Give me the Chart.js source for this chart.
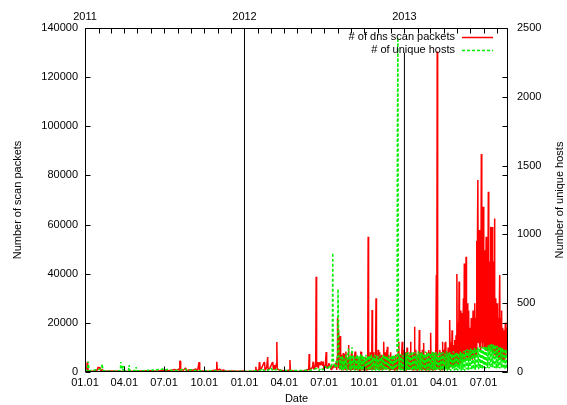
<!DOCTYPE html>
<html><head><meta charset="utf-8">
<script src="https://cdn.jsdelivr.net/npm/chart.js@4/dist/chart.umd.min.js"></script>
<style>html,body{margin:0;padding:0;background:#fff}#wrap{width:567px;height:405px}</style>
</head><body><div id="wrap"><canvas id="c" width="567" height="405"></canvas></div>
<script>
// x values are day offsets from 2011-01-01
const dateTickDays = [0,90,181,273,365,456,547,639,731,821,912];
const dateTickLabels = ["01.01","04.01","07.01","10.01","01.01","04.01","07.01","10.01","01.01","04.01","07.01"];
const monthTickDays = [0,31,59,90,120,151,181,212,243,273,304,334,365,396,425,456,486,517,547,578,609,639,670,700,731,762,790,821,851,882,912,943];
const yearTickDays = [0,365,731];
const yearTickLabels = ["2011","2012","2013"];
const yearLineDays = [365,731];
const yearLineTops = [140000,130000];
const scanTicks = [0,20000,40000,60000,80000,100000,120000,140000];
const hostTicks = [0,500,1000,1500,2000,2500];

// # of dns scan packets (left axis)
const scan2011 = [[0,300],[4,500],[5,4000],[6,3900],[7,600],[12,300],[20,400],[28,800],[30,2000],[32,1500],[34,2000],[36,500],[40,1000],[42,300],[60,400],[75,300],[90,200],[110,300],[130,400],[150,500],[165,300],[180,700],[195,500],[205,1000],[210,600],[214,1200],[216,700],[217,4500],[218,4400],[219,900],[225,700],[230,1600],[231,1500],[232,500],[240,900],[245,600],[254,1200],[255,500],[258,900],[261,4000],[262,3900],[263,600],[270,400],[280,300],[290,500],[300,800],[301,4200],[302,4100],[303,700],[308,1200],[309,1100],[310,500],[318,800],[319,700],[320,300],[335,400],[350,300],[364,400]];
const scan2012 = [[365,300],[380,200],[390,500],[391,2100],[392,400],[398,1000],[399,4000],[400,3600],[401,800],[404,1500],[410,4000],[411,3800],[412,700],[416,2000],[418,6100],[419,800],[423,1500],[429,4000],[430,3700],[431,900],[434,2800],[435,1000],[438,3400],[439,12200],[440,1200],[445,800],[452,600],[460,400],[468,800],[469,4900],[470,600],[480,300],[490,200],[500,400],[512,1000],[513,7300],[514,1000],[518,1500],[521,2000],[522,4200],[523,1200],[526,1500],[528,4000],[529,38800],[530,2000],[532,4000],[534,1500],[536,4000],[538,3000],[540,4200],[542,4000],[544,2500],[545,4200],[547,1000],[550,3000],[552,8100],[553,1500],[556,2000],[558,3500],[561,2500],[563,1000],[565,2500],[567,1500],[570,3000],[572,1800],[575,4000],[576,800],[577,6000],[578,22000],[579,17000],[580,14600],[581,1500],[582,8000],[583,900],[584,14600],[585,1200],[586,7000],[587,600],[588,6200],[589,1000],[591,7700],[592,700],[594,7300],[595,1200],[597,8300],[598,600],[600,6000],[601,1000],[602,5000],[603,11000],[604,900],[606,6000],[607,700],[608,4000],[610,8100],[611,8000],[612,800],[614,5000],[615,1000],[616,3500],[618,8300],[619,700],[620,8100],[621,900],[623,6000],[624,700],[625,4000],[626,800],[627,5500],[628,600],[629,3000],[630,800],[631,8100],[632,8100],[633,900],[635,6000],[636,700],[637,4000],[638,600],[639,5000],[640,900],[641,3000],[642,700],[643,6000],[644,800],[645,4000],[646,900],[647,8000],[648,55000],[649,1000],[651,4000],[652,800],[653,8000],[654,900],[655,5000],[656,1000],[657,25200],[658,1000],[660,8000],[661,800],[662,4000],[663,900],[664,6000],[665,8000],[666,30000],[667,1500],[669,5000],[670,900],[671,9000],[672,1000],[673,6000],[674,8000],[675,900],[676,4500],[677,700],[678,7000],[679,900],[680,5000],[681,800],[682,6000],[683,1000],[684,12300],[685,1200],[687,8000],[688,900],[689,6000],[690,9000],[691,1000],[692,10300],[693,1200],[695,7000],[696,800],[697,4000],[698,900],[699,8000],[700,1000],[701,6000],[702,800],[703,5000],[704,900],[705,6500],[706,700],[707,3500],[708,800],[709,5000],[710,900],[711,7000],[712,1000],[713,4000],[714,800],[715,6000],[716,900],[717,9000],[718,12300],[719,1200],[721,7000],[722,900],[723,6000],[724,1000],[725,8000],[726,12300],[727,1200],[729,9000],[730,1000],[731,5000]];
const scan2013 = [[732,6000],[733,1000],[734,8000],[735,800],[736,4000],[737,10000],[738,900],[740,7000],[741,1000],[742,4000],[743,800],[744,8000],[745,12300],[746,1000],[748,7000],[749,900],[750,3500],[751,800],[752,8000],[753,1000],[754,18400],[755,1200],[757,9000],[758,900],[759,4000],[760,800],[761,7000],[762,1000],[763,4000],[764,900],[765,17100],[766,1200],[768,8000],[769,800],[770,4000],[771,900],[772,9000],[773,1000],[774,5000],[775,11800],[776,1000],[778,7000],[779,800],[780,4500],[781,900],[782,8000],[783,1000],[784,5000],[785,800],[786,9000],[787,1000],[788,4000],[789,900],[790,8000],[791,16000],[792,1000],[794,7000],[795,800],[796,4000],[797,900],[798,8000],[799,1000],[800,5000],[801,900],[802,9000],[803,1200],[804,39500],[805,1500],[806,130400],[807,1500],[808,6000],[809,900],[810,5000],[811,1000],[812,9000],[813,800],[814,5000],[815,1000],[816,8000],[817,900],[818,12300],[819,1500],[821,9000],[822,1000],[823,5000],[824,12000],[825,1200],[826,12300],[827,1500],[829,8000],[830,1000],[831,10000],[832,1200],[833,7000],[834,1500],[835,21200],[836,2000],[838,12000],[839,2000],[840,17000],[841,2500],[843,11000],[844,2000],[845,9000],[846,13000],[847,2500],[849,15000],[850,3000],[851,39900],[852,4000],[854,20000],[855,3000],[856,36800],[857,4000],[859,25000],[860,3500],[861,18000],[862,4000],[863,24000],[864,5000],[866,30000],[867,5000],[868,44200],[869,6000],[870,35000],[871,5000],[872,46900],[873,6000],[875,28000],[876,5000],[877,22000],[878,25000],[879,6000],[881,18000],[882,5000],[884,22000],[885,6000],[886,16000],[887,5000],[888,25000],[889,7000],[890,20000],[891,6000],[892,28000],[893,8000],[894,22000],[895,7000],[896,53300],[897,10000],[899,78100],[900,12000],[901,45000],[902,57800],[903,10000],[904,50000],[905,12000],[906,9000],[907,88700],[908,12000],[909,60000],[910,10000],[911,67300],[912,12000],[913,45000],[914,10000],[915,49600],[916,9000],[917,35000],[918,55000],[919,10000],[920,12000],[921,40000],[922,9000],[923,73400],[924,10000],[926,45000],[927,9000],[928,59100],[929,8000],[930,35000],[931,9000],[932,59000],[933,8000],[935,45000],[936,7000],[937,62500],[938,8000],[940,30000],[941,6000],[943,28000],[944,6000],[946,22000],[947,5000],[949,39500],[950,6000],[951,22000],[952,5000],[953,25000],[954,6000],[956,18000],[957,5000],[958,10000],[959,17000],[960,5000],[961,12000],[962,20000],[963,6000],[964,14000],[965,8000],[966,18000],[967,28000],[968,15000]];

// # of unique hosts (right axis)
const hosts2011 = [[0,20],[5,10],[6,30],[7,75],[8,60],[9,10],[38,20],[39,58],[40,40],[41,10],[60,5],[81,10],[82,73],[83,20],[85,30],[86,44],[87,10],[89,44],[90,10],[100,15],[101,51],[102,10],[116,10],[117,36],[118,10],[140,8],[150,18],[155,12],[160,20],[165,15],[170,22],[175,18],[180,25],[185,15],[190,20],[195,15],[200,10],[210,12],[230,20],[235,8],[245,18],[255,10],[300,8],[330,5],[364,5]];
const hosts2012 = [[365,5],[380,8],[400,10],[405,25],[410,8],[420,15],[425,30],[430,10],[440,20],[450,10],[470,10],[500,10],[520,15],[530,25],[535,10],[540,30],[545,15],[550,40],[555,20],[560,50],[563,25],[565,60],[566,150],[567,867],[568,100],[570,60],[573,30],[575,80],[577,40],[578,150],[579,603],[580,400],[581,120],[583,20],[585,110],[587,15],[589,120],[591,10],[593,100],[595,20],[597,130],[599,10],[601,110],[603,170],[605,15],[607,120],[609,10],[611,180],[613,20],[615,120],[617,10],[619,110],[621,15],[623,125],[625,10],[627,115],[629,20],[631,130],[633,10],[635,120],[637,15],[639,110],[641,10],[643,125],[645,20],[647,115],[649,10],[651,120],[653,15],[655,130],[657,10],[659,110],[661,20],[663,125],[665,10],[667,120],[669,15],[671,115],[673,10],[675,125],[677,20],[679,110],[681,10],[683,130],[685,15],[687,120],[689,10],[691,115],[693,20],[695,125],[697,10],[699,110],[701,15],[703,120],[705,10],[707,125],[709,20],[711,115],[713,10],[714,150],[715,1750],[716,2430],[717,300],[718,20],[719,120],[721,10],[723,130],[725,15],[727,120],[729,10],[731,140]];
const hosts2013 = [[733,10],[735,140],[737,15],[739,145],[741,10],[743,130],[745,20],[747,150],[749,10],[751,140],[753,15],[755,145],[757,10],[759,135],[761,20],[763,150],[765,10],[767,140],[769,15],[771,145],[773,10],[775,130],[777,20],[779,150],[781,10],[783,140],[785,15],[787,145],[789,10],[791,135],[793,20],[795,150],[797,10],[799,140],[801,15],[803,145],[805,10],[807,130],[809,20],[811,150],[813,10],[815,140],[817,15],[819,145],[821,10],[823,135],[825,20],[827,150],[829,10],[831,140],[833,15],[835,145],[837,10],[839,130],[841,20],[843,150],[845,10],[847,140],[849,15],[851,145],[853,10],[855,135],[857,20],[859,150],[861,10],[863,140],[865,15],[867,155],[869,10],[871,160],[873,20],[875,165],[877,15],[879,160],[881,20],[883,170],[885,15],[887,165],[889,20],[891,175],[893,15],[895,170],[897,25],[899,180],[901,20],[903,175],[905,25],[907,185],[909,20],[911,180],[913,30],[915,190],[917,25],[919,185],[921,30],[923,195],[925,25],[927,200],[929,30],[931,203],[933,35],[935,200],[937,30],[939,196],[941,25],[943,190],[945,30],[947,185],[949,25],[951,180],[953,30],[955,175],[957,25],[959,170],[961,20],[963,165],[965,25],[967,160],[968,40]];

const FONT = "'Liberation Sans', Arial, Helvetica, sans-serif";
Chart.defaults.font.family = FONT;
Chart.defaults.font.size = 11;
Chart.defaults.color = '#000';

const toXY = arr => arr.map(p => ({x: p[0], y: p[1]}));
const scanData = toXY([].concat(scan2011, scan2012, scan2013));
const hostData = toXY([].concat(hosts2011, hosts2012, hosts2013));

const yearLineSets = yearLineDays.map((d, i) => ({
  label: 'year' + i,
  data: [{x: d, y: 0}, {x: d, y: yearLineTops[i]}],
  borderColor: '#000', borderWidth: 1, pointRadius: 0, yAxisID: 'y', order: 0
}));

const frame = {
  id: 'frame',
  afterDatasetsDraw(chart) {
    const {ctx, chartArea: a, scales} = chart;
    const L = a.left + 0.5, R = a.right - 0.5, T = a.top + 0.5, B = a.bottom - 0.5;
    ctx.save();
    ctx.strokeStyle = '#000'; ctx.lineWidth = 1; ctx.setLineDash([]);
    ctx.beginPath();
    ctx.rect(L, T, R - L, B - T);
    for (const v of scanTicks) {
      const y = Math.round(scales.y.getPixelForValue(v)) + 0.5;
      ctx.moveTo(L, y); ctx.lineTo(L + 5, y);
      ctx.moveTo(R, y); ctx.lineTo(R - 5, y);
    }
    for (const v of hostTicks) {
      const y = Math.round(scales.y2.getPixelForValue(v)) + 0.5;
      ctx.moveTo(R, y); ctx.lineTo(R - 5, y);
    }
    for (const d of dateTickDays) {
      const x = Math.round(scales.x.getPixelForValue(d)) + 0.5;
      ctx.moveTo(x, B); ctx.lineTo(x, B - 5);
    }
    for (const d of monthTickDays) {
      const x = Math.round(scales.x2.getPixelForValue(d)) + 0.5;
      ctx.moveTo(x, T); ctx.lineTo(x, T + 5);
    }
    ctx.stroke();
    ctx.restore();
  },
  afterDraw(chart) {
    const {ctx, chartArea: a} = chart;
    ctx.save();
    ctx.fillStyle = '#000';
    ctx.font = '11px ' + FONT;
    // legend
    ctx.textAlign = 'right'; ctx.textBaseline = 'middle';
    ctx.fillText('# of dns scan packets', 455, 37);
    ctx.fillText('# of unique hosts', 455, 50);
    ctx.lineWidth = 1.5;
    ctx.strokeStyle = '#ff0000';
    ctx.beginPath(); ctx.moveTo(462, 37.5); ctx.lineTo(493, 37.5); ctx.stroke();
    ctx.strokeStyle = '#00ee00'; ctx.setLineDash([3, 2]);
    ctx.beginPath(); ctx.moveTo(462, 50.5); ctx.lineTo(493, 50.5); ctx.stroke();
    ctx.setLineDash([]);
    // axis titles
    ctx.textAlign = 'center';
    const cy = (a.top + a.bottom) / 2;
    ctx.save(); ctx.translate(18, cy); ctx.rotate(-Math.PI / 2); ctx.fillText('Number of scan packets', 0, 0); ctx.restore();
    ctx.save(); ctx.translate(560, cy); ctx.rotate(-Math.PI / 2); ctx.fillText('Number of unique hosts', 0, 0); ctx.restore();
    ctx.fillText('Date', (a.left + a.right) / 2, 399);
    ctx.restore();
  }
};

const noGrid = {display: false, drawTicks: false};
const noBorder = {display: false};

new Chart(document.getElementById('c'), {
  type: 'line',
  data: {
    datasets: [
      ...yearLineSets,
      {label: '# of unique hosts', data: hostData, yAxisID: 'y2', borderColor: '#00ee00', borderWidth: 1.5,
       borderDash: [3, 2], pointRadius: 0, tension: 0, borderJoinStyle: 'bevel', order: 1},
      {label: '# of dns scan packets', data: scanData, yAxisID: 'y', borderColor: '#ff0000', borderWidth: 1.5,
       pointRadius: 0, tension: 0, borderJoinStyle: 'bevel', order: 2}
    ]
  },
  options: {
    responsive: false, animation: false, devicePixelRatio: 1,
    layout: {padding: 0},
    plugins: {legend: {display: false}, tooltip: {enabled: false}},
    scales: {
      x: {type: 'linear', position: 'bottom', min: 0, max: 968, grid: noGrid, border: noBorder,
        afterBuildTicks: s => { s.ticks = dateTickDays.map(v => ({value: v})); },
        ticks: {autoSkip: false, maxRotation: 0, padding: 4,
          callback: v => { const i = dateTickDays.indexOf(v); return i >= 0 ? dateTickLabels[i] : ''; }},
        afterFit: s => { s.height = 33; }},
      x2: {type: 'linear', position: 'top', min: 0, max: 968, grid: noGrid, border: noBorder,
        afterBuildTicks: s => { s.ticks = monthTickDays.map(v => ({value: v})); },
        ticks: {autoSkip: false, maxRotation: 0, padding: 4,
          callback: v => { const i = yearTickDays.indexOf(v); return i >= 0 ? yearTickLabels[i] : ''; }},
        afterFit: s => { s.height = 28; }},
      y: {type: 'linear', position: 'left', min: 0, max: 140000, grid: noGrid, border: noBorder,
        afterBuildTicks: s => { s.ticks = scanTicks.map(v => ({value: v})); },
        ticks: {padding: 7, callback: v => String(v)},
        afterFit: s => { s.width = 85; }},
      y2: {type: 'linear', position: 'right', min: 0, max: 2500, grid: noGrid, border: noBorder,
        afterBuildTicks: s => { s.ticks = hostTicks.map(v => ({value: v})); },
        ticks: {padding: 9, callback: v => String(v)},
        afterFit: s => { s.width = 59; }}
    }
  },
  plugins: [frame]
});
</script>
</body></html>
